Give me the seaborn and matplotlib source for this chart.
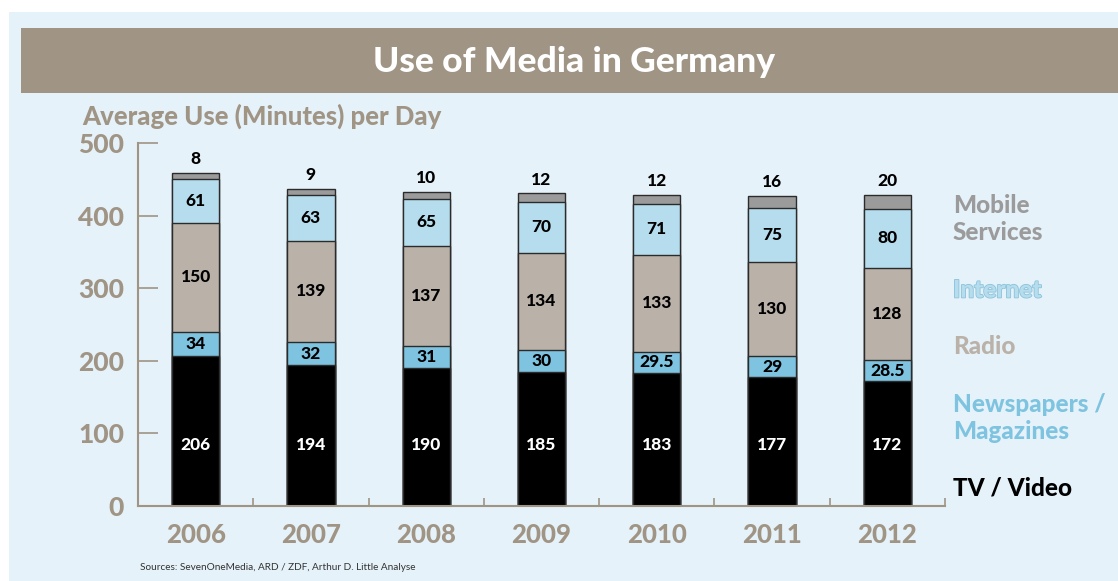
import matplotlib
matplotlib.use("Agg")
import matplotlib.pyplot as plt
import matplotlib.patheffects as pe
from matplotlib.patches import Rectangle
import numpy as np
import seaborn as sns

# ---- data ----
years = ["2006", "2007", "2008", "2009", "2010", "2011", "2012"]
tv_video = [206, 194, 190, 185, 183, 177, 172]
newspapers = [34, 32, 31, 30, 29.5, 29, 28.5]
radio = [150, 139, 137, 134, 133, 130, 128]
internet = [61, 63, 65, 70, 71, 75, 80]
mobile = [8, 9, 10, 12, 12, 16, 20]
series_names = ["TV / Video", "Newspapers /\nMagazines", "Radio", "Internet", "Mobile\nServices"]
y_ticks = [0, 100, 200, 300, 400, 500]

colors = ["#000000", "#7EC3E0", "#BAB1A8", "#B6DDEE", "#9B9B9B"]
taupe = "#A09485"
HEAVY = "black"

sns.set_style("white")
plt.rcParams['font.family'] = ['Lato', 'DejaVu Sans']
plt.rcParams['font.weight'] = 'bold'

W, H = 1118, 581
fig = plt.figure(figsize=(W / 100, H / 100), dpi=100)
fig.patch.set_facecolor("white")
fig.add_artist(Rectangle((9 / W, 0), 1, 1 - 12 / H, transform=fig.transFigure,
                         facecolor="#E6F2F9", edgecolor="none", zorder=-10))
fig.add_artist(Rectangle((21 / W, 1 - 93 / H), 1, 65 / H, transform=fig.transFigure,
                         facecolor=taupe, edgecolor="none", zorder=-9))

ax = fig.add_axes([138 / W, 1 - 506 / H, (945 - 138) / W, (506 - 143) / H])
ax.set_facecolor("none")

data = np.array([tv_video, newspapers, radio, internet, mobile], dtype=float)
cum = np.cumsum(data, axis=0)

for i in reversed(range(len(data))):
    sns.barplot(x=years, y=cum[i], order=years, color=colors[i], saturation=1,
                width=0.41, edgecolor="#2b2b2b", linewidth=1.0, errorbar=None, ax=ax)

ax.set_xlim(-0.5, 6.5)
ax.set_ylim(0, 500)
ax.set_xlabel("")
ax.set_ylabel("")

ax.set_yticks(y_ticks)
ax.set_yticklabels([str(t) for t in y_ticks])
ax.tick_params(axis="y", direction="in", length=14.4, width=1.2, color=taupe,
               labelsize=19, labelcolor=taupe, pad=10, left=True)
ax.set_xticks(range(len(years)))
ax.set_xticklabels(years)
ax.tick_params(axis="x", which="major", length=0, labelsize=18.5, labelcolor=taupe, pad=12)
ax.set_xticks(np.arange(0.5, len(years), 1), minor=True)
ax.tick_params(axis="x", which="minor", direction="in", length=6, width=1.2, color=taupe, bottom=True)
for lbl in ax.get_xticklabels() + ax.get_yticklabels():
    lbl.set_fontweight(HEAVY)

for s in ["top", "right"]:
    ax.spines[s].set_visible(False)
for s in ["left", "bottom"]:
    ax.spines[s].set_color(taupe)
    ax.spines[s].set_linewidth(1.5)

def fmt(v):
    return f"{v:g}"

for j in range(len(years)):
    ax.text(j, 84, fmt(data[0, j]), ha="center", va="center", color="white",
            fontsize=12.5, fontweight=HEAVY)
    for i in (1, 2, 3):
        mid = cum[i, j] - data[i, j] / 2
        ax.text(j, mid, fmt(data[i, j]), ha="center", va="center", color="black",
                fontsize=12.5, fontweight=HEAVY)
    ax.annotate(fmt(data[4, j]), (j, cum[4, j]), xytext=(0, 4), textcoords="offset points",
                ha="center", va="bottom", color="black", fontsize=12.5, fontweight=HEAVY)

# Title and labels
fig.text(574 / W, 1 - 62 / H, "Use of Media in Germany", ha="center", va="center",
         color="white", fontsize=25.5, fontweight=HEAVY)
fig.text(82 / W, 1 - 116 / H, "Average Use (Minutes) per Day", ha="left", va="center",
         color=taupe, fontsize=18.5, fontweight=HEAVY)
fig.text(140 / W, 1 - 567 / H, "Sources: SevenOneMedia, ARD / ZDF, Arthur D. Little Analyse",
         ha="left", va="center", color="#333333", fontsize=7.2, fontweight="normal")

# Legend texts
leg_y = [488, 418, 347, 290, 219]
leg_colors = ["#000000", "#7EC3E0", "#BAB1A8", "#B6DDEE", "#9B9B9B"]
for name, yy, c in zip(series_names, leg_y, leg_colors):
    t = fig.text(953 / W, 1 - yy / H, name, ha="left", va="center", color=c,
                 fontsize=17.5, fontweight=HEAVY, linespacing=1.2)
    if name == "Internet":
        t.set_path_effects([pe.withStroke(linewidth=1.2, foreground="#8CC3DA")])

fig.savefig("out.png", dpi=100)
